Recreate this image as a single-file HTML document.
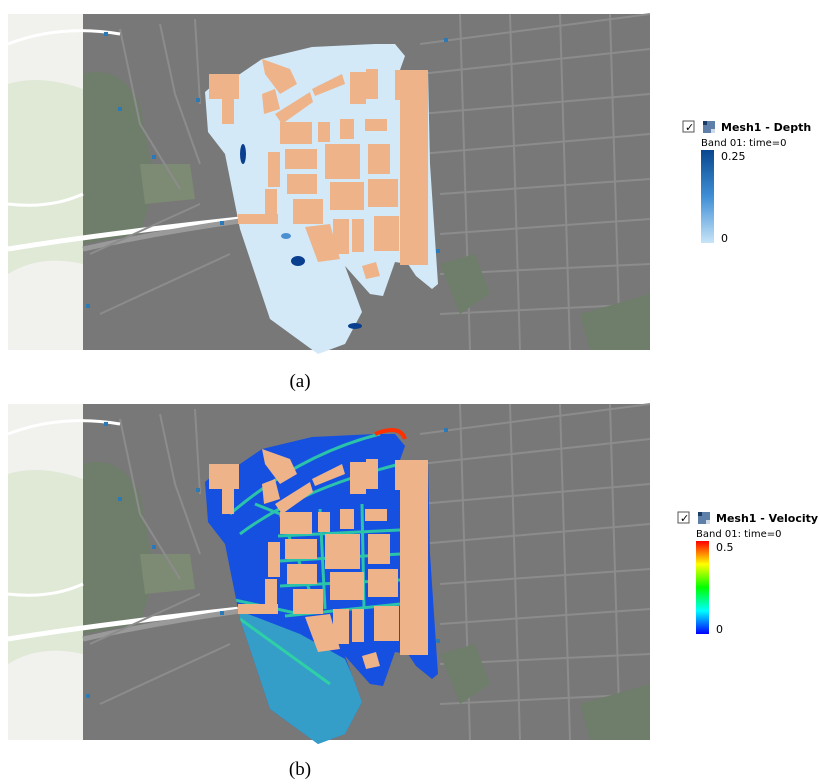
<!DOCTYPE html>
<html><head><meta charset="utf-8"><style>
body{margin:0;background:#fff;width:819px;height:779px;overflow:hidden;font-family:"Liberation Sans",sans-serif}
</style></head><body>
<svg width="819" height="779" viewBox="0 0 819 779" xmlns="http://www.w3.org/2000/svg">
<defs>
<linearGradient id="gd" x1="0" y1="0" x2="0" y2="1"><stop offset="0" stop-color="#08478f"/><stop offset="0.5" stop-color="#3f8fd6"/><stop offset="1" stop-color="#c8e4f7"/></linearGradient>
<linearGradient id="gv" x1="0" y1="0" x2="0" y2="1"><stop offset="0" stop-color="#ff0000"/><stop offset="0.25" stop-color="#ffff00"/><stop offset="0.5" stop-color="#00ff00"/><stop offset="0.75" stop-color="#00ffff"/><stop offset="1" stop-color="#0000ff"/></linearGradient>
<g id="map">
<rect x="8" y="0" width="642" height="336" fill="#787878"/>
<rect x="8" y="0" width="75" height="336" fill="#f1f1ee"/>
<path d="M8 70 Q40 60 83 75 L83 250 Q40 240 8 260Z" fill="#dfe9d6"/>
<path d="M83 60 Q120 50 140 90 L155 170 L140 220 L83 230Z" fill="#6f7e6b"/>
<path d="M140 150 L190 150 L195 185 L145 190Z" fill="#7d8a74"/>
<path d="M8 235 Q100 220 240 205" stroke="#fff" stroke-width="5" fill="none"/>
<path d="M83 235 Q160 218 240 207" stroke="#9a9a9a" stroke-width="5" fill="none"/>
<g stroke="#8c8c8c" stroke-width="2" fill="none">
<path d="M120 15 L140 110 L180 175"/><path d="M160 10 L175 80 L200 150"/><path d="M195 5 L200 90"/>
<path d="M90 240 L200 190"/><path d="M100 300 L230 240"/>
<path d="M420 30 L650 0"/><path d="M420 60 L650 35"/><path d="M420 100 L650 80"/><path d="M420 140 L650 120"/><path d="M440 180 L650 165"/><path d="M440 220 L650 205"/><path d="M440 260 L650 250"/><path d="M440 300 L650 290"/>
<path d="M460 0 L470 336"/><path d="M510 0 L520 336"/><path d="M560 0 L570 336"/><path d="M610 0 L620 336"/>
</g>
<path d="M440 250 L475 240 L490 280 L460 300Z" fill="#6f7e6b"/>
<path d="M580 300 L650 280 L650 336 L590 336Z" fill="#6f7e6b"/>
<path d="M120 20 Q60 10 8 30" stroke="#fff" stroke-width="3" fill="none"/>
<path d="M8 190 Q50 195 83 180" stroke="#fff" stroke-width="3" fill="none"/>
<g fill="#2a7ab8"><rect x="104" y="18" width="4" height="4"/><rect x="152" y="141" width="4" height="4"/><rect x="118" y="93" width="4" height="4"/><rect x="86" y="290" width="4" height="4"/><rect x="196" y="84" width="4" height="4"/><rect x="220" y="207" width="4" height="4"/><rect x="436" y="235" width="4" height="4"/><rect x="418" y="154" width="4" height="4"/><rect x="444" y="24" width="4" height="4"/></g>
</g>
<path id="mesh" d="M205 78 L212 72 L240 60 L262 45 L312 33 L375 30 L395 30 L405 42 L400 56 L428 56 L430 150 L438 270 L432 275 L416 262 L408 250 L395 248 L383 282 L370 280 L345 252 L362 298 L345 330 L318 340 L270 305 L240 215 L225 140 L208 118Z"/>
<clipPath id="mc"><use href="#mesh"/></clipPath>
<g id="bld" fill="#eeb388">
<rect x="209" y="60" width="30" height="25"/><rect x="222" y="70" width="12" height="40"/>
<path d="M262 45 L290 55 L297 70 L280 80 L265 60Z"/>
<path d="M262 80 L275 75 L280 95 L264 100Z"/>
<path d="M275 100 L310 78 L313 88 L282 110Z"/>
<path d="M312 75 L342 60 L345 70 L315 82Z"/>
<rect x="350" y="58" width="16" height="32"/><rect x="366" y="55" width="12" height="30"/><rect x="395" y="56" width="15" height="30"/>
<rect x="280" y="108" width="32" height="22"/><rect x="318" y="108" width="12" height="20"/><rect x="340" y="105" width="14" height="20"/><rect x="365" y="105" width="22" height="12"/>
<rect x="285" y="135" width="32" height="20"/><rect x="325" y="130" width="35" height="35"/><rect x="368" y="130" width="22" height="30"/>
<rect x="287" y="160" width="30" height="20"/><rect x="268" y="138" width="12" height="35"/>
<rect x="293" y="185" width="30" height="25"/><rect x="330" y="168" width="34" height="28"/><rect x="368" y="165" width="30" height="28"/>
<rect x="265" y="175" width="12" height="30"/><rect x="238" y="200" width="40" height="10"/>
<path d="M305 213 L330 210 L340 245 L318 248Z"/><rect x="333" y="205" width="16" height="35"/><rect x="352" y="205" width="12" height="33"/><rect x="374" y="202" width="25" height="35"/>
<rect x="400" y="56" width="28" height="195"/><path d="M362 252 L376 248 L380 262 L366 265Z"/>
</g>
</defs>
<!-- panel a -->
<g transform="translate(0,14)">
<use href="#map"/>
<use href="#mesh" fill="#d3e9f8"/>
<g fill="#0a3f8f"><ellipse cx="243" cy="140" rx="3" ry="10"/><ellipse cx="298" cy="247" rx="7" ry="5"/><ellipse cx="419" cy="236" rx="6" ry="10"/><ellipse cx="355" cy="312" rx="7" ry="3"/><ellipse cx="286" cy="222" rx="5" ry="3" fill="#4a90d0"/></g>
<use href="#bld"/>
</g>
<!-- panel b -->
<g transform="translate(0,404)">
<use href="#map"/>
<use href="#mesh" fill="#1650e0"/>
<g clip-path="url(#mc)">
<path d="M235 205 L300 230 L345 255 L365 300 L345 335 L318 345 L260 300Z" fill="#3fb8c0" opacity="0.75"/>
<g stroke="#2fd8a0" stroke-width="3" fill="none" opacity="0.85">
<path d="M230 110 Q300 50 380 30"/><path d="M240 130 Q300 85 400 60"/><path d="M255 100 L280 110 L300 160 L318 210"/><path d="M278 132 L400 126"/><path d="M280 157 L400 150"/><path d="M280 182 L400 176"/><path d="M285 212 L400 200"/><path d="M320 105 L325 205"/><path d="M362 100 L364 205"/><path d="M230 195 L300 210"/><path d="M240 215 L330 280"/>
</g>
</g>
<path d="M375 30 Q400 20 405 35" stroke="#ff3000" stroke-width="4" fill="none"/>
<use href="#bld"/>
</g>
<text x="300" y="387" font-family="Liberation Serif,serif" font-size="19" text-anchor="middle">(a)</text>
<text x="300" y="775" font-family="Liberation Serif,serif" font-size="19" text-anchor="middle">(b)</text>
<!-- legend -->
<g font-family="DejaVu Sans,sans-serif">
<rect x="683" y="121" width="11" height="11" fill="#fff" stroke="#555"/><text x="685" y="131" font-size="11">✓</text>
<rect x="703" y="121" width="12" height="12" fill="#5d7fa8"/><rect x="703" y="121" width="4" height="4" fill="#1c3c66"/><rect x="711" y="129" width="4" height="4" fill="#cfd9e6"/>
<text x="721" y="131" font-size="11" font-weight="bold">Mesh1 - Depth</text>
<text x="701" y="146" font-size="10">Band 01: time=0</text>
<rect x="701" y="150" width="13" height="93" fill="url(#gd)"/>
<text x="721" y="160" font-size="11">0.25</text><text x="721" y="242" font-size="11">0</text>
<rect x="678" y="512" width="11" height="11" fill="#fff" stroke="#555"/><text x="680" y="522" font-size="11">✓</text>
<rect x="698" y="512" width="12" height="12" fill="#5d7fa8"/><rect x="698" y="512" width="4" height="4" fill="#1c3c66"/><rect x="706" y="520" width="4" height="4" fill="#cfd9e6"/>
<text x="716" y="522" font-size="11" font-weight="bold">Mesh1 - Velocity</text>
<text x="696" y="537" font-size="10">Band 01: time=0</text>
<rect x="696" y="541" width="13" height="93" fill="url(#gv)"/>
<text x="716" y="551" font-size="11">0.5</text><text x="716" y="633" font-size="11">0</text>
</g>
</svg>
</body></html>
